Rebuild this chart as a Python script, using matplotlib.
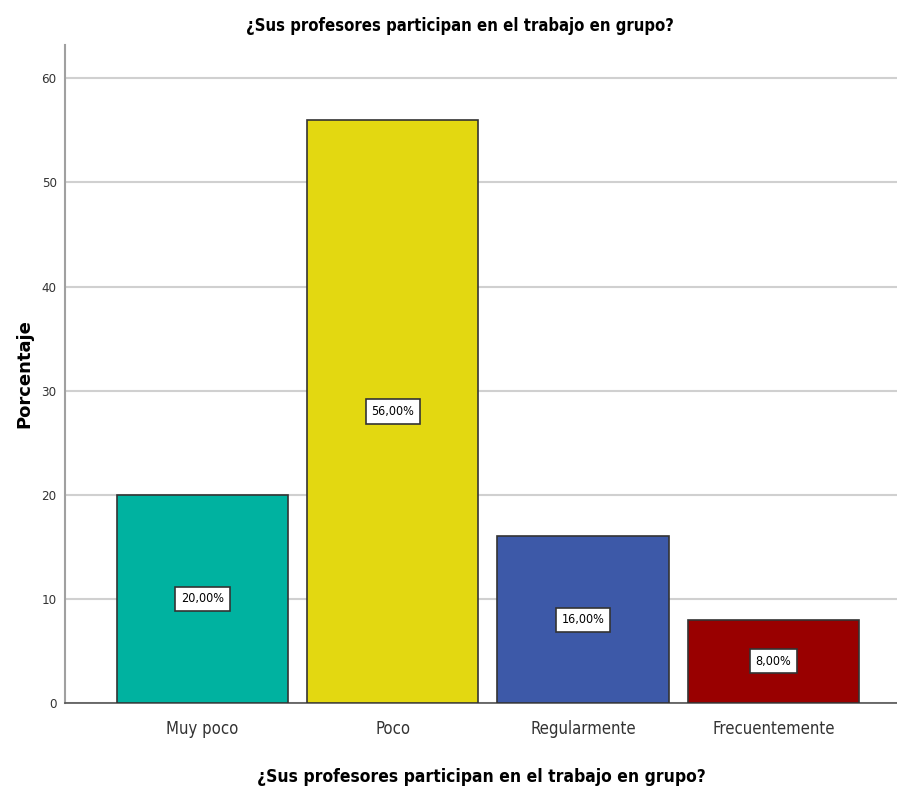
import matplotlib
matplotlib.use("Agg")
from matplotlib import pyplot as plt

categories = ["Muy poco", "Poco", "Regularmente", "Frecuentemente"]
percent = [20.0, 56.0, 16.0, 8.0]
colors = ["#00B2A0", "#E3D811", "#3D59A8", "#990000"]
y_ticks = [0, 10, 20, 30, 40, 50, 60]
title = "¿Sus profesores participan en el trabajo en grupo?"

narrow = dict(family="DejaVu Sans", stretch="condensed")

fig = plt.figure(figsize=(8.97, 7.99), dpi=100)
ax = fig.add_axes([0.0725, 0.1202, 0.9275, 0.8235])

x = list(range(len(categories)))
ax.bar(x, percent, width=0.9, color=colors, edgecolor="#333333", linewidth=1.2, zorder=3)

for xi, v in zip(x, percent):
    ax.text(xi, v / 2, ("%.2f%%" % v).replace(".", ","), ha="center", va="center",
            fontsize=9, zorder=4, **narrow,
            bbox=dict(boxstyle="square,pad=0.45", facecolor="white", edgecolor="#333333", linewidth=1.2))

ax.set_xlim(-0.722, 3.65)
ax.set_ylim(0, 63.2)
ax.set_yticks(y_ticks)
ax.set_yticklabels([str(t) for t in y_ticks], fontsize=9.5, color="#333333", **narrow)
ax.set_xticks(x)
ax.set_xticklabels(categories, fontsize=12, color="#333333", **narrow)
ax.tick_params(axis="x", length=0, pad=12)
ax.tick_params(axis="y", length=0, pad=6)

ax.grid(axis="y", color="#D0D0D0", linewidth=1.5, zorder=0)
ax.set_axisbelow(True)
for s in ["top", "right"]:
    ax.spines[s].set_visible(False)
ax.spines["left"].set_color("#A0A0A0")
ax.spines["left"].set_linewidth(1.5)
ax.spines["bottom"].set_color("#555555")
ax.spines["bottom"].set_linewidth(1.2)

ax.set_ylabel("Porcentaje", fontsize=13, fontweight="bold")
ax.yaxis.set_label_coords(-0.038, 0.5)
ax.set_xlabel(title, fontsize=12.5, fontweight="bold", labelpad=22, **narrow)
fig.text(0.513, 0.968, title, ha="center", va="center", fontsize=12, fontweight="bold", **narrow)

plt.savefig("out.png", dpi=100)
plt.close()
